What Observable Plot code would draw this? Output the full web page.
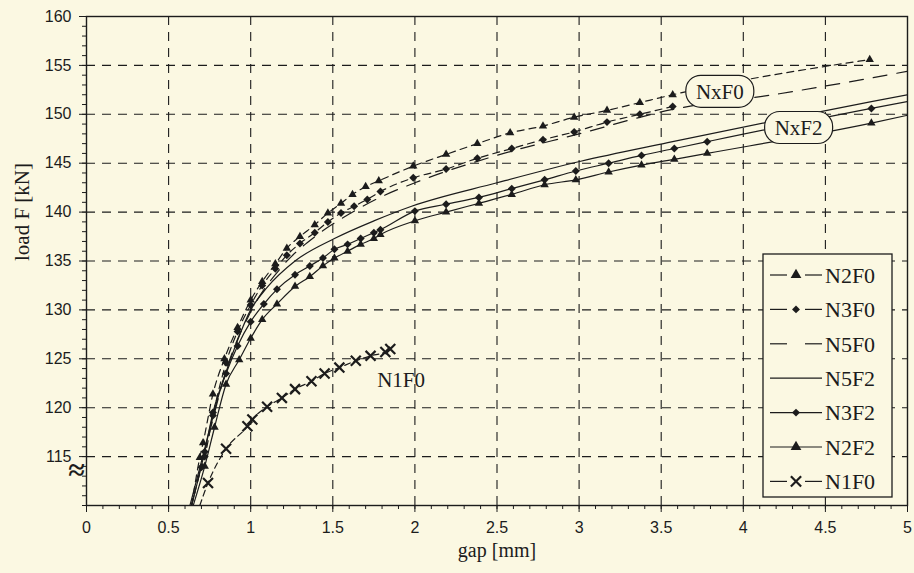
<!DOCTYPE html>
<html><head><meta charset="utf-8">
<script src="https://cdn.jsdelivr.net/npm/d3@7"></script>
<script src="https://cdn.jsdelivr.net/npm/@observablehq/plot@0.6"></script>
<style>
html,body{margin:0;padding:0;background:#fbf8e2;}
</style></head><body><div id="chart"></div>
<script>
// ---- data (gap [mm], load F [kN]) ----
const seriesNames = ["N2F0","N3F0","N5F0","N5F2","N3F2","N2F2","N1F0"];

const n2f0X = [0.64,0.69,0.71,0.77,0.84,0.92,1.00,1.07,1.15,1.22,1.30,1.39,1.47,1.55,1.62,1.70,1.78,1.99,2.19,2.38,2.58,2.78,2.97,3.17,3.37,3.57,4.77];
const n2f0Y = [110,114.9,116.4,121.4,125.0,128.2,131.0,132.9,134.7,136.3,137.5,138.7,139.9,140.9,141.8,142.6,143.2,144.7,145.9,147.0,148.1,148.8,149.7,150.4,151.2,152.0,155.6];

const n3f0X = [0.64,0.70,0.72,0.77,0.85,0.92,1.00,1.07,1.15,1.22,1.30,1.39,1.47,1.55,1.63,1.71,1.79,1.99,2.19,2.38,2.59,2.78,2.97,3.17,3.37,3.57];
const n3f0Y = [110,113.9,115.0,119.2,124.6,127.8,130.5,132.5,134.2,135.6,136.8,137.9,139.0,139.9,140.6,141.3,142.1,143.5,144.4,145.5,146.5,147.4,148.2,149.2,150.0,150.8];

const n5f0X = [0.64,0.75,0.85,1.00,1.20,1.40,1.60,1.80,2.00,2.50,3.00,3.57,4.22,4.64,5.00];
const n5f0Y = [110,117.5,123.8,129.8,134.6,137.6,139.8,141.6,143.0,145.8,148.0,150.5,152.1,153.3,154.4];

const n5f2X = [0.63,0.70,0.80,0.90,1.00,1.10,1.27,1.51,1.75,1.98,2.50,3.01,3.54,4.15,4.78,5.00];
const n5f2Y = [110,114.5,121.0,126.0,130.0,132.3,135.0,137.3,139.1,140.6,143.0,145.2,147.1,149.2,151.3,152.0];

const n3f2X = [0.64,0.72,0.77,0.85,0.92,1.00,1.08,1.16,1.27,1.36,1.44,1.51,1.59,1.67,1.75,1.79,2.00,2.19,2.39,2.59,2.79,2.98,3.18,3.38,3.58,3.78,4.78,5.00];
const n3f2Y = [110,115.5,119.5,123.5,126.3,128.8,130.6,132.1,133.6,134.5,135.3,136.2,136.7,137.3,137.9,138.2,140.1,140.8,141.5,142.4,143.3,144.2,145.0,145.8,146.5,147.2,150.6,151.3];

const n2f2X = [0.65,0.72,0.78,0.85,0.93,1.00,1.07,1.16,1.27,1.36,1.44,1.51,1.59,1.67,1.75,1.79,2.00,2.19,2.39,2.59,2.79,2.98,3.18,3.38,3.58,3.78,4.78,5.00];
const n2f2Y = [110,114.0,118.0,122.4,124.9,127.1,129.0,130.6,132.4,133.4,134.5,135.3,136.0,136.7,137.3,137.7,139.1,140.0,140.9,141.8,142.8,143.3,144.1,144.8,145.4,146.0,149.1,149.9];

const n1f0X = [0.69,0.74,0.85,0.98,1.01,1.10,1.19,1.27,1.37,1.45,1.54,1.64,1.73,1.82,1.85];
const n1f0Y = [110,112.3,115.8,118.1,118.8,120.1,121.0,121.9,122.7,123.5,124.1,124.8,125.3,125.7,126.0];

const xTicks = [0,0.5,1,1.5,2,2.5,3,3.5,4,4.5,5];
const yTicks = [115,120,125,130,135,140,145,150,155,160];
const curveLabels = ["NxF0","NxF2","N1F0"];
const curveLabelX = [3.86,4.34,1.77];
const curveLabelY = [152.3,148.6,122.8];

// ---- styling (not data) ----
const BG = "#fbf8e2", INK = "#1c1c1c";
const style = {
  N2F0:{dash:"7,5", symbol:"triangle2"},
  N3F0:{dash:"7,5", symbol:"diamond2"},
  N5F0:{dash:"14,10", symbol:null},
  N5F2:{dash:null, symbol:null},
  N3F2:{dash:null, symbol:"diamond2"},
  N2F2:{dash:null, symbol:"triangle2"},
  N1F0:{dash:"6,4", symbol:"times"}
};
const xs = {N2F0:n2f0X,N3F0:n3f0X,N5F0:n5f0X,N5F2:n5f2X,N3F2:n3f2X,N2F2:n2f2X,N1F0:n1f0X};
const ys = {N2F0:n2f0Y,N3F0:n3f0Y,N5F0:n5f0Y,N5F2:n5f2Y,N3F2:n3f2Y,N2F2:n2f2Y,N1F0:n1f0Y};
const rows = s => xs[s].map((x,i)=>({series:s,x,y:ys[s][i]}));

const lineMarks = seriesNames.map(s => Plot.line(rows(s), {
  x:"x", y:"y", curve:"monotone-x", stroke:INK, strokeWidth:1.2,
  strokeDasharray: style[s].dash || undefined, clip:true
}));
const dotMarks = seriesNames.filter(s=>style[s].symbol).map(s => {
  const sym = style[s].symbol;
  const data = rows(s).filter(d => d.y > 110.5 && d.x < 4.99);
  if (sym === "times") return Plot.dot(data, {x:"x", y:"y", symbol:"times", r:4.6, stroke:INK, strokeWidth:2.2, fill:"none"});
  return Plot.dot(data, {x:"x", y:"y", symbol:sym, r: sym==="triangle2"?4:3.6, fill:INK, stroke:"none"});
});

const minorX = d3.range(0, 5.001, 0.1).map(v=>+v.toFixed(2));
const minorY = d3.range(110, 160.5, 1);
const gridX = xTicks.filter(v=>v>0 && v<5);
const gridY = yTicks.filter(v=>v<160);
const serif = "'Liberation Serif', 'Times New Roman', serif";

const plot = Plot.plot({
  width:914, height:573,
  marginLeft:86, marginRight:7, marginTop:16, marginBottom:68,
  style:{background:BG, fontFamily:"'Liberation Sans', Arial, sans-serif", color:INK, overflow:"visible"},
  x:{domain:[0,5]},
  y:{domain:[110,160]},
  marks:[
    Plot.ruleX(gridX, {stroke:INK, strokeWidth:1.1, strokeDasharray:"9,7"}),
    Plot.ruleY(gridY, {stroke:INK, strokeWidth:1.1, strokeDasharray:"9,7"}),
    ...lineMarks,
    ...dotMarks,
    Plot.axisX(minorX, {tickSize:4, text:null, label:null, stroke:INK}),
    Plot.axisY(minorY, {tickSize:4, text:null, label:null, stroke:INK}),
    Plot.axisX(xTicks, {tickSize:7, tickPadding:9, fontSize:16, label:null, stroke:INK, fill:INK, tickFormat:d=>String(d)}),
    Plot.axisY(yTicks, {tickSize:7, tickPadding:8, fontSize:16, label:null, stroke:INK, fill:INK, tickFormat:d=>String(d)}),
    Plot.frame({stroke:INK, strokeWidth:1.4}),
    Plot.text(["≈"], {x:0, y:113.6, dx:-10, fontSize:30, fontWeight:"bold", fontFamily:serif, fill:INK}),
    Plot.text([curveLabels[2]], {x:curveLabelX[2], y:curveLabelY[2], textAnchor:"start", fontSize:21, fontFamily:serif, fill:INK}),
    Plot.text(["gap [mm]"], {frameAnchor:"bottom", dy:51, fontSize:20, fontFamily:serif, fill:INK}),
    Plot.text(["load F [kN]"], {frameAnchor:"left", dx:-64, rotate:-90, fontSize:21, fontFamily:serif, fill:INK})
  ]
});

// ---- boxed curve labels & legend ----
const sx = plot.scale("x"), sy = plot.scale("y");
const svg = d3.select(plot);
for (let i = 0; i < 2; i++) {
  const cx = sx.apply(curveLabelX[i]), cy = sy.apply(curveLabelY[i]);
  const g = svg.append("g");
  g.append("rect").attr("x", cx-34).attr("y", cy-16).attr("width", 68).attr("height", 32)
    .attr("rx", 15).attr("fill", BG).attr("stroke", INK).attr("stroke-width", 1.2);
  g.append("text").attr("x", cx).attr("y", cy).attr("dy", "0.35em").attr("text-anchor","middle")
    .attr("font-family", serif).attr("font-size", 21).attr("fill", INK).text(curveLabels[i]);
}

const lg = svg.append("g");
const lx0 = 763, ly0 = 254, lw = 129, lh = 243;
lg.append("rect").attr("x", lx0).attr("y", ly0).attr("width", lw).attr("height", lh)
  .attr("fill", BG).attr("stroke", INK).attr("stroke-width", 1.3);
const symMap = {triangle2:d3.symbolTriangle, diamond2:d3.symbolDiamond2, times:d3.symbolTimes};
seriesNames.forEach((s, i) => {
  const y = ly0 + 21 + i*34.4;
  const st = style[s];
  const a = 770, b = 822, m = 796;
  if (st.dash) {
    lg.append("line").attr("x1", a).attr("x2", m-9).attr("y1", y).attr("y2", y).attr("stroke", INK).attr("stroke-width", 1.2);
    lg.append("line").attr("x1", m+9).attr("x2", b).attr("y1", y).attr("y2", y).attr("stroke", INK).attr("stroke-width", 1.2);
  } else {
    lg.append("line").attr("x1", a).attr("x2", b).attr("y1", y).attr("y2", y).attr("stroke", INK).attr("stroke-width", 1.2);
  }
  if (st.symbol) {
    const isT = st.symbol === "times";
    const size = st.symbol === "triangle2" ? 50 : (isT ? 70 : 40);
    lg.append("path").attr("transform", `translate(${m},${y})`)
      .attr("d", d3.symbol(symMap[st.symbol], size)())
      .attr("fill", isT ? "none" : INK).attr("stroke", isT ? INK : "none").attr("stroke-width", isT ? 2.2 : 0);
  }
  lg.append("text").attr("x", 825).attr("y", y).attr("dy", "0.35em").attr("text-anchor", "start")
    .attr("font-family", serif).attr("font-size", 22).attr("fill", INK).text(s);
});

document.getElementById("chart").appendChild(plot);
</script></body></html>
